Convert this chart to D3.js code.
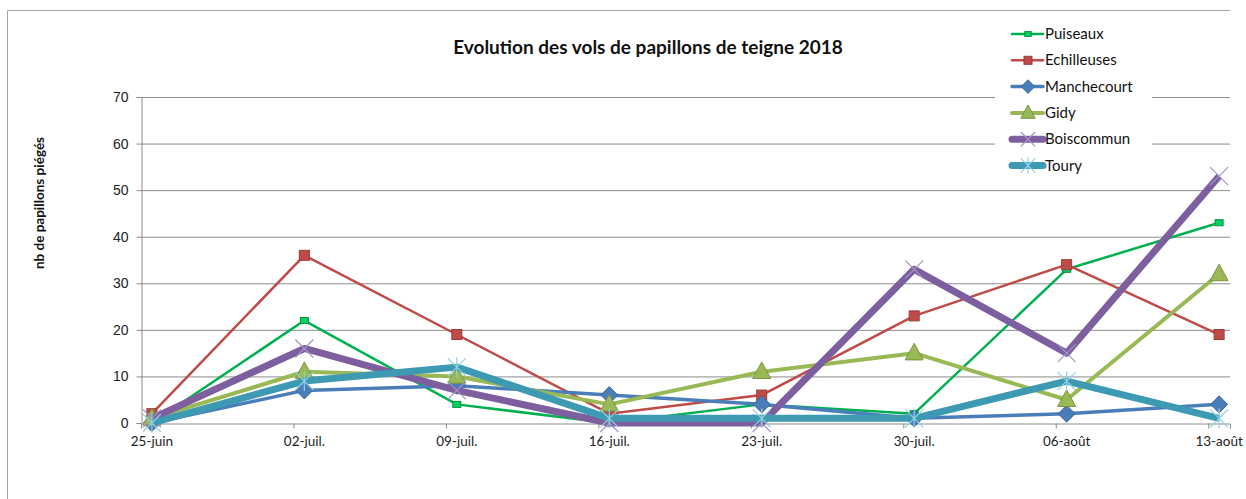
<!DOCTYPE html>
<html>
<head>
<meta charset="utf-8">
<script src="https://cdn.jsdelivr.net/npm/d3@7"></script>
<style>
  body { margin: 0; background: #fff; }
  svg { display: block; font-family: Lato, "Open Sans", sans-serif; }
</style>
</head>
<body>
<svg width="1246" height="499"></svg>
<script>
const dates = ['25-juin', '02-juil.', '09-juil.', '16-juil.', '23-juil.', '30-juil.', '06-août', '13-août'];
const puiseaux = [0, 22, 4, 0, 4, 2, 33, 43];
const echilleuses = [2, 36, 19, 2, 6, 23, 34, 19];
const manchecourt = [0, 7, 8, 6, 4, 1, 2, 4];
const gidy = [1, 11, 10, 4, 11, 15, 5, 32];
const boiscommun = [1, 16, 7, 0, 0, 33, 15, 53];
const toury = [0, 9, 12, 1, 1, 1, 9, 1];
const yTicks = [0, 10, 20, 30, 40, 50, 60, 70];

const series = [
  { name: 'Puiseaux', values: puiseaux, color: '#00b050', width: 2.5, marker: 'smallsquare' },
  { name: 'Echilleuses', values: echilleuses, color: '#be4b48', width: 2.5, marker: 'square' },
  { name: 'Manchecourt', values: manchecourt, color: '#4a7ebb', width: 3.5, marker: 'diamond' },
  { name: 'Gidy', values: gidy, color: '#98b954', width: 4, marker: 'triangle' },
  { name: 'Boiscommun', values: boiscommun, color: '#7d5fa0', width: 7, marker: 'x' },
  { name: 'Toury', values: toury, color: '#3d9ab2', width: 7, marker: 'star' }
];

const svg = d3.select('svg');

// frame
svg.append('path')
  .attr('d', 'M7.5,499 V10.5 H1230')
  .attr('fill', 'none')
  .attr('stroke', '#a6a6a6');

const plot = { left: 141, right: 1230, top: 97, bottom: 423 };
// date axis: one day per slot, points in the middle of the slot
const x = d3.scaleLinear().domain([0, 50]).range([plot.left, plot.right]);
const y = d3.scaleLinear().domain([0, 70]).range([plot.bottom, plot.top]);
const px = (i) => x(i * 7 + 0.5);

// gridlines
svg.append('g')
  .selectAll('line')
  .data(yTicks.slice(1))
  .join('line')
  .attr('x1', plot.left).attr('x2', plot.right)
  .attr('y1', (d) => y(d) + 0.5).attr('y2', (d) => y(d) + 0.5)
  .attr('stroke', '#8c8c8c');

// y axis
const yAxis = svg.append('g')
  .attr('transform', `translate(${plot.left + 0.5},0)`)
  .call(d3.axisLeft(y).tickValues(yTicks).tickSize(5).tickPadding(8));
yAxis.select('.domain').attr('stroke', '#8c8c8c');
yAxis.selectAll('.tick line').attr('stroke', '#8c8c8c');
yAxis.selectAll('text').style('font-size', '14px').attr('fill', '#222');

// x axis
const xAxis = svg.append('g')
  .attr('transform', `translate(0,${plot.bottom + 0.5})`)
  .call(d3.axisBottom(x).tickValues(d3.range(7, 50, 7)).tickSize(5).tickFormat(''));
xAxis.select('.domain').attr('stroke', '#8c8c8c');
xAxis.selectAll('.tick line').attr('stroke', '#8c8c8c');

svg.append('g')
  .selectAll('text')
  .data(dates)
  .join('text')
  .attr('x', (d, i) => px(i))
  .attr('y', 446)
  .attr('text-anchor', 'middle')
  .style('font-size', '13.5px')
  .attr('fill', '#222')
  .text((d) => d);

// title
svg.append('text')
  .attr('x', 648).attr('y', 54)
  .attr('text-anchor', 'middle')
  .style('font-size', '19px')
  .style('font-weight', 'bold')
  .attr('fill', '#111')
  .text('Evolution des vols de papillons de teigne 2018');

// y label
svg.append('text')
  .attr('transform', 'translate(44,203) rotate(-90)')
  .attr('text-anchor', 'middle')
  .style('font-size', '13.5px')
  .style('font-weight', 'bold')
  .attr('fill', '#111')
  .text('nb de papillons  piégés');

function drawMarker(g, type, color, cx, cy, scale) {
  const s = scale || 1;
  const dark = d3.color(color).darker(0.6);
  if (type === 'smallsquare') {
    g.append('rect').attr('x', cx - 4 * s).attr('y', cy - 3 * s).attr('width', 8 * s).attr('height', 6 * s)
      .attr('fill', d3.color(color).brighter(0.5)).attr('stroke', dark).attr('stroke-width', 1);
  } else if (type === 'square') {
    g.append('rect').attr('x', cx - 5 * s).attr('y', cy - 5 * s).attr('width', 10 * s).attr('height', 10 * s)
      .attr('fill', color).attr('stroke', dark).attr('stroke-width', 1);
  } else if (type === 'diamond') {
    const r = 8.5 * s;
    g.append('path').attr('d', `M${cx},${cy - r}L${cx + r},${cy}L${cx},${cy + r}L${cx - r},${cy}Z`)
      .attr('fill', color).attr('stroke', dark).attr('stroke-width', 1);
  } else if (type === 'triangle') {
    const r = 9 * s;
    g.append('path').attr('d', `M${cx},${cy - r * 1.1}L${cx + r},${cy + r * 0.75}L${cx - r},${cy + r * 0.75}Z`)
      .attr('fill', color).attr('stroke', dark).attr('stroke-width', 1);
  } else if (type === 'x') {
    const r = 9 * s;
    g.append('path').attr('d', `M${cx - r},${cy - r}L${cx + r},${cy + r}M${cx - r},${cy + r}L${cx + r},${cy - r}`)
      .attr('stroke', '#a493c4').attr('stroke-width', 1.2);
  } else if (type === 'star') {
    const r = 9 * s;
    g.append('path').attr('d', `M${cx - r},${cy - r}L${cx + r},${cy + r}M${cx - r},${cy + r}L${cx + r},${cy - r}M${cx},${cy - r * 1.1}V${cy + r * 1.1}`)
      .attr('stroke', '#8fd0e2').attr('stroke-width', 1.2);
  }
}

const line = d3.line().x((d, i) => px(i)).y((d) => y(d));

series.forEach((s) => {
  const g = svg.append('g');
  g.append('path')
    .datum(s.values)
    .attr('d', line)
    .attr('fill', 'none')
    .attr('stroke', s.color)
    .attr('stroke-width', s.width)
    .attr('stroke-linejoin', 'round');
  s.values.forEach((v, i) => drawMarker(g, s.marker, s.color, px(i), y(v)));
});

// legend
const legend = svg.append('g');
legend.append('rect')
  .attr('x', 995).attr('y', 18).attr('width', 157).attr('height', 162)
  .attr('fill', '#fff');
series.forEach((s, i) => {
  const ly = 34 + i * 26.3;
  const g = legend.append('g');
  g.append('line')
    .attr('x1', 1012).attr('x2', 1043).attr('y1', ly).attr('y2', ly)
    .attr('stroke', s.color)
    .attr('stroke-width', s.width)
    .attr('stroke-linecap', 'round');
  drawMarker(g, s.marker, s.color, 1028, ly, 0.8);
  g.append('text')
    .attr('x', 1045).attr('y', ly + 5)
    .style('font-size', '15px')
    .attr('fill', '#111')
    .text(s.name);
});
</script>
</body>
</html>
